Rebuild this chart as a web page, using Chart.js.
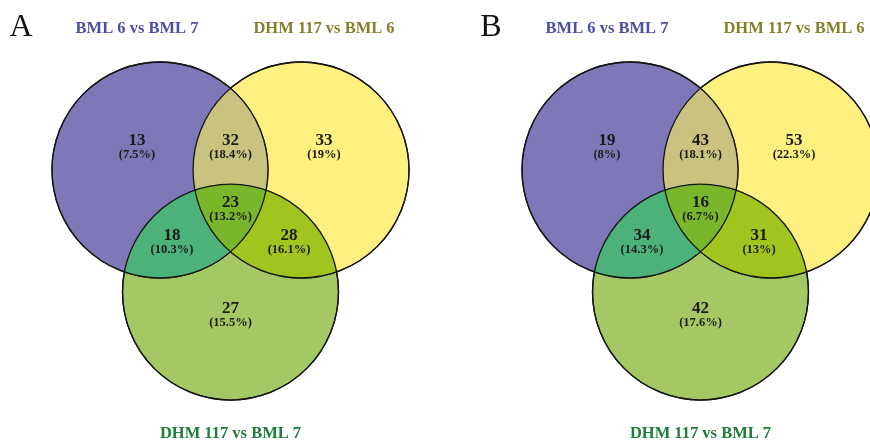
<!DOCTYPE html>
<html>
<head>
<meta charset="utf-8">
<script src="https://cdn.jsdelivr.net/npm/chart.js@4.4.1/dist/chart.umd.min.js"></script>
<style>
  html, body { margin: 0; padding: 0; background: #fff; overflow: hidden; }
  #wrap { display: flex; width: 870px; height: 443px; }
  canvas { display: block; }
</style>
</head>
<body>
<div id="wrap">
  <canvas id="vennA" width="470" height="443"></canvas>
  <canvas id="vennB" width="400" height="443"></canvas>
</div>
<script>
// Venn diagram - two panels (A, B), three comparisons each

// sets (circles), layout in units of circle radius
const setNames = ['BML 6 vs BML 7', 'DHM 117 vs BML 6', 'DHM 117 vs BML 7'];
const setColors = ['#7e78b8', '#fff07f', '#a4c964'];
const titleColors = ['#4b4f9f', '#857f2b', '#1e7d3a'];
const circleX = [-0.653, 0.653, 0];
const circleY = [0, 0, -1.13];
const titleX = [-0.866, 0.866, 0];
const titleY = [1.306, 1.306, -2.444];

// regions: only1, 1&2, only2, 1&3, all, 2&3, only3
const regionX = [-0.866, 0, 0.866, -0.542, 0, 0.542, 0];
const regionY = [0.269, 0.269, 0.269, -0.611, -0.306, -0.611, -1.287];

const countsA = [13, 32, 33, 18, 23, 28, 27];
const pctA = ['7.5%', '18.4%', '19%', '10.3%', '13.2%', '16.1%', '15.5%'];
const countsB = [19, 43, 53, 34, 16, 31, 42];
const pctB = ['8%', '18.1%', '22.3%', '14.3%', '6.7%', '13%', '17.6%'];

const panelLetters = ['A', 'B'];

// overlap colours: 1&2, 1&3, 2&3, all
const overlapColors = ['#c9c37f', '#4db279', '#a2c41e', '#7ab62a'];
const outline = '#151515';
const serif = "'Liberation Serif', 'DejaVu Serif', serif";

const vennPlugin = {
  id: 'venn',
  afterDatasetsDraw(chart, args, opts){
    const ctx = chart.ctx;
    const xs = chart.scales.x, ys = chart.scales.y;
    const circles = chart.data.datasets.map((d, i) => {
      const el = chart.getDatasetMeta(i).data[0];
      return { x: el.x, y: el.y, r: el.options.radius };
    });
    const path = c => { ctx.beginPath(); ctx.arc(c.x, c.y, c.r, 0, Math.PI * 2); };
    const fillOverlap = (ids, color) => {
      ctx.save();
      ids.forEach(i => { path(circles[i]); ctx.clip(); });
      ctx.fillStyle = color;
      ctx.fillRect(0, 0, chart.width, chart.height);
      ctx.restore();
    };
    fillOverlap([0, 1], overlapColors[0]);
    fillOverlap([0, 2], overlapColors[1]);
    fillOverlap([1, 2], overlapColors[2]);
    fillOverlap([0, 1, 2], overlapColors[3]);

    ctx.save();
    ctx.strokeStyle = outline;
    ctx.lineWidth = 1.3;
    circles.forEach(c => { path(c); ctx.stroke(); });

    ctx.textAlign = 'center';
    ctx.textBaseline = 'middle';
    ctx.fillStyle = '#1a1a1a';
    opts.counts.forEach((n, i) => {
      const px = xs.getPixelForValue(regionX[i]);
      const py = ys.getPixelForValue(regionY[i]);
      ctx.font = 'bold 17px ' + serif;
      ctx.fillText(String(n), px, py);
      ctx.font = 'bold 12.5px ' + serif;
      ctx.fillText('(' + opts.pct[i] + ')', px, py + 13.5);
    });

    ctx.font = 'bold 16.5px ' + serif;
    setNames.forEach((name, i) => {
      ctx.fillStyle = titleColors[i];
      ctx.fillText(name, xs.getPixelForValue(titleX[i]), ys.getPixelForValue(titleY[i]));
    });

    ctx.font = '32px ' + serif;
    ctx.fillStyle = '#111';
    ctx.fillText(opts.letter, xs.getPixelForValue(-1.94), ys.getPixelForValue(1.315));
    ctx.restore();
  }
};

function makeVenn(id, counts, pct, letter, xMax){
  const radiusPx = c => {
    const s = c.chart.scales.x;
    return s.getPixelForValue(1) - s.getPixelForValue(0);
  };
  return new Chart(document.getElementById(id), {
    type: 'scatter',
    data: {
      datasets: setNames.map((name, i) => ({
        label: name,
        data: [{ x: circleX[i], y: circleY[i] }],
        backgroundColor: setColors[i],
        borderColor: outline,
        borderWidth: 1.3,
        pointRadius: radiusPx,
        pointHoverRadius: radiusPx,
        clip: false,
      }))
    },
    options: {
      responsive: false,
      animation: false,
      events: [],
      layout: { padding: 0 },
      plugins: {
        legend: { display: false },
        tooltip: { enabled: false },
        venn: { counts, pct, letter },
      },
      scales: {
        x: { type: 'linear', min: -2.1343, max: xMax, display: false },
        y: { type: 'linear', min: -2.5278, max: 1.5741, display: false },
      }
    },
    plugins: [vennPlugin]
  });
}

makeVenn('vennA', countsA, pctA, panelLetters[0], 2.2176);
makeVenn('vennB', countsB, pctB, panelLetters[1], 1.5694);
</script>
</body>
</html>
